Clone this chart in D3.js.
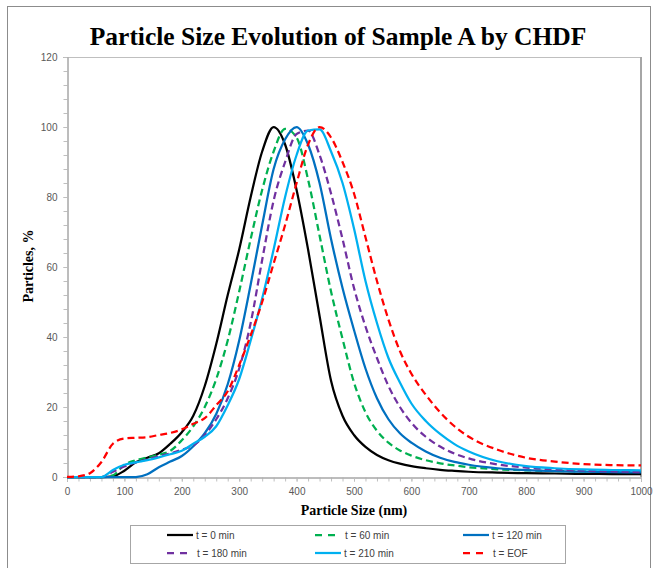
<!DOCTYPE html>
<html>
<head>
<meta charset="utf-8">
<script src="https://cdn.jsdelivr.net/npm/d3@7/dist/d3.min.js"></script>
<style>
  html, body { margin: 0; padding: 0; background: #fff; }
  svg { display: block; }
</style>
</head>
<body>
<div id="chart"></div>
<script>
// particle sizes (nm) shared by every series
const sizes = [0, 20, 40, 60, 80, 100, 120, 140, 160, 180, 200, 220, 240, 260, 280, 300, 320, 340, 360, 380, 400,
  420, 440, 460, 480, 500, 520, 540, 560, 580, 600, 625, 650, 675, 700, 750, 800, 850, 900, 950, 1000];

const t0 = [0, 0, 0, 0, 0.2, 1.8, 4.2, 5.5, 6.8, 9.5, 12.8, 17.5, 26, 38, 52, 65, 80, 93, 100, 95, 82,
  65, 46, 27.5, 17.5, 12, 8.6, 6.3, 4.8, 3.8, 3.1, 2.5, 2.05, 1.75, 1.5, 1.25, 1.1, 1, 0.9, 0.85, 0.8];
const t60 = [0, 0, 0, 0, 0.5, 3.5, 4.8, 5.6, 6.4, 7.5, 10.5, 14.5, 20, 28, 39, 53, 68, 82, 93, 99.5, 97,
  85, 69, 53, 39.5, 27, 18.5, 13.2, 9.8, 7.6, 6.1, 4.8, 3.9, 3.3, 2.8, 2.2, 1.9, 1.7, 1.6, 1.5, 1.5];
const t120 = [0, 0, 0, 0, 0, 0, 0, 0.8, 2.8, 4.4, 6, 8.8, 12.5, 18, 26.5, 39, 55, 72, 88, 96.5, 100,
  95, 84, 68, 54, 42, 31, 22.5, 16.5, 12.5, 9.8, 7.3, 5.5, 4.3, 3.5, 2.5, 1.95, 1.65, 1.5, 1.4, 1.3];
const t180 = [0, 0, 0, 0, 1.5, 3, 4.2, 5, 6, 6.7, 7.8, 9, 12, 16.5, 22.5, 31, 44, 62, 79, 90, 98,
  99, 92, 81, 68, 54, 43, 34, 26, 20, 15.5, 11.5, 8.7, 6.7, 5.3, 3.6, 2.7, 2.2, 1.8, 1.6, 1.4];
const t210 = [0, 0, 0, 0, 2, 3.5, 4.2, 4.8, 5.6, 6.5, 7.5, 9.5, 11.5, 14.5, 20.5, 28, 39, 51, 65, 80, 92,
  99, 99.3, 93, 84, 71, 56, 44, 34, 27, 21, 16, 12.3, 9.4, 7.3, 4.5, 3.1, 2.5, 2.15, 2, 1.9];
const tEOF = [0, 0.2, 1.1, 4.3, 9.5, 11, 11.2, 11.4, 12, 12.6, 13.6, 15.2, 16.8, 20.5, 24.5, 32, 40.5, 50, 61, 72, 84,
  95, 100, 97, 90, 81, 68.5, 56, 45, 36, 29.5, 23.5, 18.5, 14.5, 11.5, 7.8, 5.5, 4.4, 3.7, 3.4, 3.3];

const seriesNames = ['t = 0 min', 't = 60 min', 't = 120 min', 't = 180 min', 't = 210 min', 't = EOF'];
const seriesValues = [t0, t60, t120, t180, t210, tEOF];
const seriesColors = ['#000000', '#00b050', '#0070c0', '#7030a0', '#00b0f0', '#ff0000'];
const seriesDashed = [false, true, false, true, false, true];

const xTicks = [0, 100, 200, 300, 400, 500, 600, 700, 800, 900, 1000];
const yTicks = [0, 20, 40, 60, 80, 100, 120];

const W = 655, H = 568;
const plot = { left: 67, right: 641, top: 57, bottom: 477 };

const svg = d3.select('#chart').append('svg')
  .attr('width', W).attr('height', H);

// outer chart frame
svg.append('rect')
  .attr('x', 7.5).attr('y', 6.5).attr('width', 643).attr('height', 600)
  .attr('fill', '#fff').attr('stroke', '#8c8c8c').attr('stroke-width', 1);

const x = d3.scaleLinear().domain([0, 1000]).range([plot.left, plot.right]);
const y = d3.scaleLinear().domain([0, 120]).range([plot.bottom, plot.top]);

// plot area border (top + right)
svg.append('line')
  .attr('x1', plot.left).attr('x2', plot.right).attr('y1', plot.top + 0.5).attr('y2', plot.top + 0.5)
  .attr('stroke', '#bfbfbf');
svg.append('line')
  .attr('x1', plot.right).attr('x2', plot.right).attr('y1', plot.top).attr('y2', plot.bottom)
  .attr('stroke', '#a6a6a6').attr('stroke-width', 2);

// axes
const xAxis = d3.axisBottom(x).tickValues(xTicks).tickSize(4).tickPadding(6).tickFormat(d3.format('d'));
const xMinor = d3.axisBottom(x).tickValues(d3.range(0, 1001, 20)).tickSize(4).tickFormat('');
const yAxis = d3.axisLeft(y).tickValues(yTicks).tickSize(4).tickPadding(6);
const yMinor = d3.axisLeft(y).tickValues(d3.range(0, 121, 4)).tickSize(4).tickFormat('');

function styleAxis(g) {
  g.selectAll('.domain').attr('stroke', '#a6a6a6');
  g.selectAll('.tick line').attr('stroke', '#bfbfbf');
  g.selectAll('.tick text')
    .attr('fill', '#595959')
    .style('font-family', '"Liberation Sans", Arial, sans-serif')
    .style('font-size', '10px');
}

svg.append('g').attr('transform', `translate(0,${plot.bottom + 0.5})`).call(xMinor).call(styleAxis);
svg.append('g').attr('transform', `translate(0,${plot.bottom + 0.5})`).call(xAxis).call(styleAxis);
svg.append('g').attr('transform', `translate(${plot.left + 0.5},0)`).call(yMinor).call(styleAxis);
svg.append('g').attr('transform', `translate(${plot.left + 0.5},0)`).call(yAxis).call(styleAxis);

// curves
const line = d3.line()
  .x((d, i) => x(sizes[i]))
  .y(d => y(d))
  .curve(d3.curveMonotoneX);

seriesValues.forEach((vals, i) => {
  svg.append('path')
    .datum(vals)
    .attr('d', line)
    .attr('fill', 'none')
    .attr('stroke', seriesColors[i])
    .attr('stroke-width', 2.25)
    .attr('stroke-dasharray', seriesDashed[i] ? '7,4' : null);
});

// titles
svg.append('text')
  .attr('x', 338).attr('y', 45)
  .attr('text-anchor', 'middle')
  .style('font-family', '"Liberation Serif", "Times New Roman", serif')
  .style('font-weight', 'bold')
  .style('font-size', '25.5px')
  .text('Particle Size Evolution of Sample A by CHDF');

svg.append('text')
  .attr('x', 354).attr('y', 515)
  .attr('text-anchor', 'middle')
  .style('font-family', '"Liberation Serif", "Times New Roman", serif')
  .style('font-weight', 'bold')
  .style('font-size', '14px')
  .text('Particle Size (nm)');

svg.append('text')
  .attr('transform', 'translate(33,266) rotate(-90)')
  .attr('text-anchor', 'middle')
  .style('font-family', '"Liberation Serif", "Times New Roman", serif')
  .style('font-weight', 'bold')
  .style('font-size', '14px')
  .text('Particles, %');

// legend
const legend = svg.append('g');
legend.append('rect')
  .attr('x', 130.5).attr('y', 525.5).attr('width', 435).attr('height', 38)
  .attr('fill', '#fff').attr('stroke', '#a6a6a6');

const colX = [167, 315, 463];
const rowY = [535, 553];
seriesNames.forEach((name, i) => {
  const cx = colX[i % 3], cy = rowY[Math.floor(i / 3)];
  legend.append('line')
    .attr('x1', cx).attr('x2', cx + (seriesDashed[i] ? 22 : 26))
    .attr('y1', cy).attr('y2', cy)
    .attr('stroke', seriesColors[i])
    .attr('stroke-width', 2.25)
    .attr('stroke-dasharray', seriesDashed[i] ? '7,6' : null);
  legend.append('text')
    .attr('x', cx + (seriesDashed[i] ? 30 : 29)).attr('y', cy)
    .attr('dy', '0.35em')
    .attr('fill', '#404040')
    .style('font-family', '"Liberation Sans", Arial, sans-serif')
    .style('font-size', '10px')
    .text(name);
});
</script>
</body>
</html>
